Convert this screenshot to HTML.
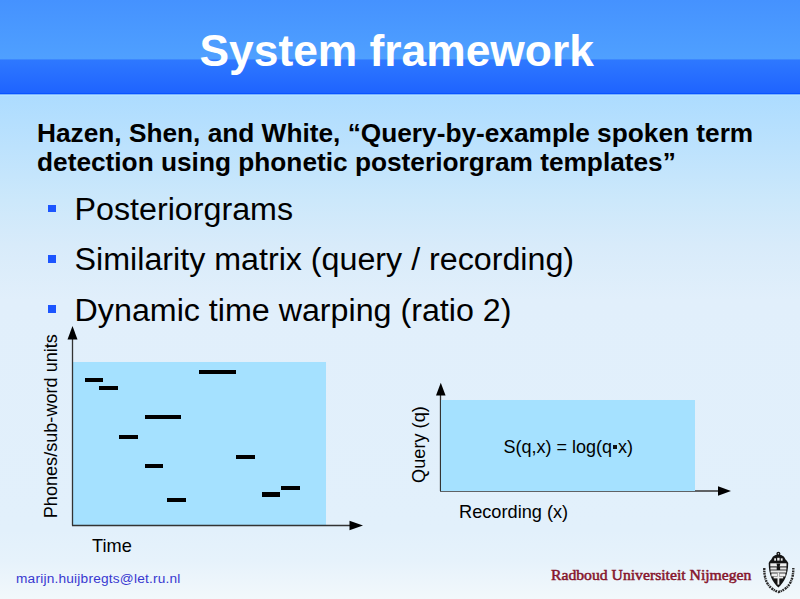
<!DOCTYPE html>
<html><head><meta charset="utf-8">
<style>
html,body{margin:0;padding:0;}
body{width:800px;height:599px;overflow:hidden;position:relative;font-family:"Liberation Sans",sans-serif;
background:linear-gradient(to bottom,#ADDCFF 96px,#CCE8FB 200px,#D8EBFA 245px,#E1EFFB 300px,#E2F0FB 530px,#E6F2FB 560px,#F2F8FB 599px);}
.hdr1{position:absolute;left:0;top:0;width:800px;height:59px;background:linear-gradient(to bottom,#4592FF,#4FA0FF);}
.hdr1b{position:absolute;left:0;top:59px;width:800px;height:1px;background:#3D88FF;}
.hdr2{position:absolute;left:0;top:60px;width:800px;height:34px;background:linear-gradient(to bottom,#2E78FF,#1E63FF);border-bottom:0;}
.hdr3{position:absolute;left:0;top:93px;width:800px;height:1px;background:#0A55FF;}
.hdr4{position:absolute;left:0;top:94px;width:800px;height:1px;background:#7DB4FF;}
.hdr5{position:absolute;left:0;top:95px;width:800px;height:1px;background:#B5E2FF;}
.t{position:absolute;white-space:nowrap;line-height:1;}
.title{left:199.5px;top:28.8px;font-size:44.35px;font-weight:bold;color:#fff;}
.cite{left:37px;font-size:26.25px;font-weight:bold;color:#000;}
.bul{position:absolute;left:48.3px;width:8px;height:7.8px;background:#1C55FF;}
.btxt{left:74.6px;font-size:32.22px;color:#000;}
.rect{position:absolute;background:#A5E1FF;}
.dash{position:absolute;height:4.2px;background:#000;}
.lbl{font-size:18.2px;color:#000;}
</style></head><body>
<div class="hdr1"></div><div class="hdr1b"></div><div class="hdr2"></div><div class="hdr3"></div><div class="hdr4"></div><div class="hdr5"></div>
<div class="t title">System framework</div>
<div class="t cite" style="top:120px">Hazen, Shen, and White, “Query-by-example spoken term</div>
<div class="t cite" style="top:149px">detection using phonetic posteriorgram templates”</div>

<div class="bul" style="top:204.6px"></div>
<div class="bul" style="top:255px"></div>
<div class="bul" style="top:305px"></div>
<div class="t btxt" style="top:193px">Posteriorgrams</div>
<div class="t btxt" style="top:242.6px">Similarity matrix (query / recording)</div>
<div class="t btxt" style="top:294px">Dynamic time warping (ratio 2)</div>

<!-- left chart -->
<div class="rect" style="left:73px;top:362px;width:252.8px;height:163px"></div>
<div class="dash" style="left:85px;top:378px;width:18px"></div>
<div class="dash" style="left:99px;top:386px;width:18.5px"></div>
<div class="dash" style="left:199px;top:370px;width:36.5px"></div>
<div class="dash" style="left:145px;top:414.5px;width:36px"></div>
<div class="dash" style="left:119px;top:435px;width:19px"></div>
<div class="dash" style="left:145px;top:464px;width:18px"></div>
<div class="dash" style="left:236px;top:455.3px;width:19px"></div>
<div class="dash" style="left:167.4px;top:498px;width:19px"></div>
<div class="dash" style="left:262px;top:492.4px;width:18px"></div>
<div class="dash" style="left:281.3px;top:486.3px;width:19px"></div>
<svg style="position:absolute;left:0;top:0" width="800" height="599">
  <line x1="72.5" y1="338" x2="72.5" y2="525.5" stroke="#333" stroke-width="1.3"/>
  <polygon points="72.5,326 67.5,339.5 77.5,339.5" fill="#000"/>
  <line x1="72" y1="525.5" x2="350" y2="525.5" stroke="#333" stroke-width="1.3"/>
  <polygon points="363,525.5 349.5,520.8 349.5,530.2" fill="#000"/>
  <line x1="440.5" y1="394" x2="440.5" y2="491" stroke="#333" stroke-width="1.3"/>
  <polygon points="440.8,382.7 436,395.5 445.6,395.5" fill="#000"/>
  <line x1="440" y1="491" x2="719" y2="491" stroke="#333" stroke-width="1.3"/>
  <polygon points="731,491 718,486.2 718,495.8" fill="#000"/>
</svg>
<div class="t lbl" style="left:0;top:0;transform-origin:0 0;transform:translate(41.9px,518.2px) rotate(-90deg);font-size:18.1px">Phones/sub-word units</div>
<div class="t lbl" style="left:92px;top:537px">Time</div>

<!-- right chart -->
<div class="rect" style="left:441px;top:400px;width:254px;height:91px"></div>
<div class="t lbl" style="left:0;top:0;transform-origin:0 0;transform:translate(410px,483px) rotate(-90deg)">Query (q)</div>
<div class="t lbl" style="left:459px;top:503px">Recording (x)</div>
<div class="t lbl" style="left:503.5px;top:437.8px;font-size:18px">S(q,x) = log(q<span style="display:inline-block;width:3.4px;height:3.4px;background:#111;vertical-align:4.3px;margin:0 1.3px"></span>x)</div>

<!-- footer -->
<div class="t" style="left:16px;top:571.6px;font-size:13.7px;letter-spacing:0.2px;color:#3838D0">marijn.huijbregts@let.ru.nl</div>
<div class="t" style="left:551px;top:568.4px;font-family:'Liberation Serif',serif;font-size:14.6px;-webkit-text-stroke:0.5px #86152C;color:#86152C;transform-origin:0 0;transform:scaleX(1.075)">Radboud Universiteit Nijmegen</div>
<svg style="position:absolute;left:0;top:0" width="800" height="599">
  <path d="M768.7 563 C768.7 575 772.5 582 778.4 587.6 C784.3 582 788.2 575 788.2 563 C787.5 561.5 786.5 560.5 785.7 559.8 C785 558.5 784.5 557.5 783.8 556.6 C782.5 555.6 781 555 780.2 554.8 L776.6 554.8 C775.8 555 774.3 555.6 773 556.6 C772.3 557.5 771.8 558.5 771.1 559.8 C770.3 560.5 769.3 561.5 768.7 563 Z" fill="#141414"/>
  <circle cx="778.4" cy="553.8" r="2" fill="#141414"/>
  <circle cx="778.4" cy="553.8" r="0.7" fill="#ddd"/>
  <rect x="774.2" y="558.3" width="1.8" height="2.4" fill="#eee"/>
  <rect x="777.2" y="557.8" width="2.4" height="2.8" fill="#eee"/>
  <rect x="780.8" y="558.3" width="1.8" height="2.4" fill="#eee"/>
  <rect x="770.3" y="563.3" width="16.2" height="3.1" fill="#eee"/>
  <path d="M776.5 563.4 L780.3 563.4 L779.6 566.8 L778.4 568 L777.2 566.8 Z" fill="#141414"/>
  <rect x="770.4" y="567.4" width="6.3" height="2.2" fill="#e4e4e4"/>
  <rect x="780.1" y="567.4" width="6.3" height="2.2" fill="#e4e4e4"/>
  <rect x="770.6" y="570.4" width="15.6" height="2.2" fill="#e8e8e8"/>
  <rect x="771.4" y="573.4" width="6" height="3" fill="#eee"/>
  <rect x="779.4" y="573.4" width="6" height="3" fill="#eee"/>
  <rect x="777.5" y="572.6" width="1.8" height="12" fill="#eee"/>
  <rect x="773.6" y="576.6" width="9.6" height="1.8" fill="#eee"/>
  <path d="M764.3 568 Q763.8 587.5 778.6 592 Q793.5 587.5 793.3 568" fill="none" stroke="#2a2a2a" stroke-width="2.4" stroke-dasharray="2.2 0.6 1.2 0.7 1.8 0.9"/>
</svg>
</body></html>
